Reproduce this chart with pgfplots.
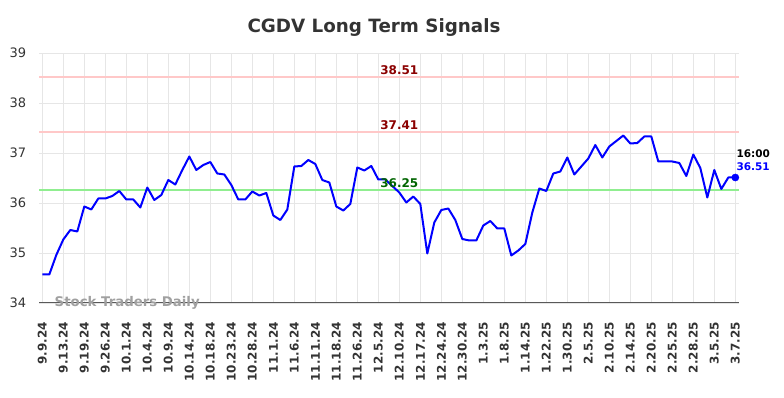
\documentclass[border=0pt]{standalone}
\usepackage{fontspec}
\setmainfont{DejaVu Sans}
\usepackage{pgfplots}
\usepackage{pgfplotstable}
\pgfplotsset{compat=1.18}
\definecolor{lineblue}{HTML}{0000FF}
\definecolor{pinkline}{HTML}{FFC8C8}
\definecolor{greenline}{HTML}{90EE90}
\definecolor{darkred}{HTML}{8B0000}
\definecolor{darkgreen}{HTML}{006400}
\definecolor{gridgray}{HTML}{E6E6E6}
\definecolor{txtgray}{HTML}{333333}
\definecolor{wmgray}{HTML}{A0A0A0}
\pgfplotstableread{
i v
0 34.57
1 34.57
2 34.96
3 35.27
4 35.46
5 35.43
6 35.93
7 35.87
8 36.09
9 36.09
10 36.14
11 36.24
12 36.07
13 36.07
14 35.91
15 36.31
16 36.06
17 36.16
18 36.46
19 36.37
20 36.66
21 36.93
22 36.66
23 36.76
24 36.82
25 36.59
26 36.57
27 36.36
28 36.07
29 36.07
30 36.23
31 36.15
32 36.20
33 35.75
34 35.66
35 35.87
36 36.73
37 36.74
38 36.86
39 36.78
40 36.46
41 36.41
42 35.93
43 35.85
44 35.98
45 36.71
46 36.65
47 36.74
48 36.47
49 36.47
50 36.34
51 36.21
52 36.01
53 36.13
54 35.98
55 34.99
56 35.61
57 35.86
58 35.89
59 35.66
60 35.28
61 35.25
62 35.25
63 35.55
64 35.64
65 35.49
66 35.49
67 34.95
68 35.05
69 35.18
70 35.81
71 36.29
72 36.24
73 36.59
74 36.63
75 36.91
76 36.57
77 36.73
78 36.89
79 37.16
80 36.91
81 37.13
82 37.24
83 37.35
84 37.19
85 37.20
86 37.33
87 37.33
88 36.83
89 36.83
90 36.83
91 36.80
92 36.54
93 36.97
94 36.70
95 36.11
96 36.66
97 36.28
98 36.51
99 36.51
}\prices
\begin{document}
\begin{tikzpicture}
\useasboundingbox (-39.3pt,-95pt) rectangle (744.7pt,303pt);
\begin{axis}[
  at={(0pt,0pt)}, anchor=south west,
  scale only axis, width=700pt, height=250pt,
  xmin=-0.43, xmax=99.57, ymin=34, ymax=39,
  axis line style={draw=none},
  ytick={34,35,36,37,38,39},
  xtick={0,3,...,99},
  xticklabels={9.9.24,9.13.24,9.19.24,9.26.24,10.1.24,10.4.24,10.9.24,10.14.24,10.18.24,10.23.24,10.28.24,11.1.24,11.6.24,11.11.24,11.18.24,11.26.24,12.5.24,12.10.24,12.17.24,12.24.24,12.30.24,1.3.25,1.8.25,1.14.25,1.22.25,1.30.25,2.5.25,2.10.25,2.14.25,2.20.25,2.25.25,2.28.25,3.5.25,3.7.25},
  major tick length=0pt,
  tick style={draw=none},
  grid=major,
  grid style={color=gridgray, line width=0.9pt},
  /pgf/number format/assume math mode=true,
  yticklabel style={font=\fontsize{13}{13}\selectfont, color=txtgray, inner sep=0pt, xshift=-13pt},
  xticklabel style={font=\fontsize{12}{12}\selectfont\bfseries, color=txtgray, inner sep=0pt, yshift=-19pt, rotate=90, anchor=east},
  clip=false,
]
\draw[color=black!65, line width=1pt] (rel axis cs:0,0) -- (rel axis cs:1,0);
\addplot[pinkline, line width=2pt] coordinates {(-0.43,38.51) (99.57,38.51)};
\addplot[pinkline, line width=2pt] coordinates {(-0.43,37.41) (99.57,37.41)};
\addplot[greenline, line width=2pt] coordinates {(-0.43,36.25) (99.57,36.25)};
\addplot[lineblue, line width=2pt, line join=round] table[x=i, y=v] {\prices};
\addplot[lineblue, only marks, mark=*, mark size=3.6pt] coordinates {(99,36.51)};
\node[anchor=south, inner sep=0pt, yshift=3pt, font=\fontsize{12}{12}\selectfont\bfseries, color=darkred] at (axis cs:51,38.51) {38.51};
\node[anchor=south, inner sep=0pt, yshift=3pt, font=\fontsize{12}{12}\selectfont\bfseries, color=darkred] at (axis cs:51,37.41) {37.41};
\node[anchor=south, inner sep=0pt, yshift=3pt, font=\fontsize{12}{12}\selectfont\bfseries, color=darkgreen] at (axis cs:51,36.25) {36.25};
\node[anchor=west, inner sep=0pt, xshift=1pt, yshift=10.4pt, font=\fontsize{10.5}{10.5}\selectfont\bfseries, color=lineblue] at (axis cs:99,36.51) {36.51};
\node[anchor=west, inner sep=0pt, xshift=1pt, yshift=23.4pt, font=\fontsize{10.5}{10.5}\selectfont\bfseries, color=black] at (axis cs:99,36.51) {16:00};
\end{axis}
\node[anchor=base, inner sep=0pt, font=\fontsize{18.3}{18.3}\selectfont\bfseries, color=txtgray] at (334.7pt,270.3pt) {CGDV Long Term Signals};
\node[anchor=base west, inner sep=0pt, font=\fontsize{13.3}{13.3}\selectfont\bfseries, color=wmgray] at (15.2pt,-3.5pt) {Stock Traders Daily};
\end{tikzpicture}
\end{document}
